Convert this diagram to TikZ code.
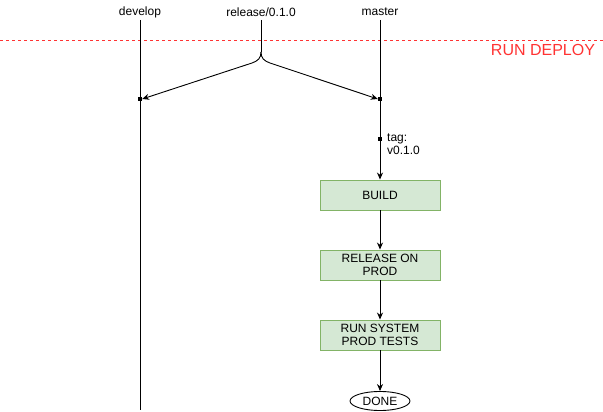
\documentclass[tikz,border=0pt]{standalone}
\usepackage{fontspec}
\setmainfont{Liberation Sans}
\usetikzlibrary{arrows.meta,shapes.geometric}
\definecolor{stepFill}{RGB}{213,232,212}
\definecolor{stepDraw}{RGB}{130,179,102}
\definecolor{deployColor}{RGB}{255,51,51}
\tikzset{
  branch/.style={draw=black,line width=0.9pt},
  flow/.style={branch,-{Stealth[length=7pt,width=6pt]}},
  stepbox/.style={draw=stepDraw,fill=stepFill,line width=0.9pt,minimum width=120pt,
    minimum height=30pt,align=center,inner sep=1pt,font=\fontsize{12}{13}\selectfont},
  label/.style={inner sep=0pt,font=\fontsize{12}{13}\selectfont},
  commit/.style={fill=black,inner sep=0pt,minimum size=4pt}
}
\begin{document}
\begin{tikzpicture}[x=1pt,y=-1pt]
\path[use as bounding box,fill=white] (0,0) rectangle (603,412);

% deploy trigger
\coordinate (deployL) at (0,40);
\coordinate (deployR) at (603,40);
\draw[deployColor,dashed,line width=0.6pt] (deployL) -- (deployR);
\node[label,text=deployColor,font=\fontsize{16}{18}\selectfont] (deploy) at (543,50) {RUN DEPLOY};

% branch names
\node[label] (develop) at (140,12) {develop};
\node[label] (release) at (261,12) {release/0.1.0};
\node[label] (master) at (380,12) {master};

% branch lines
\coordinate (devTop) at (140,20);
\coordinate (devEnd) at (140,410);
\coordinate (relTop) at (261,20);
\coordinate (relSplit) at (261,52);
\coordinate (masTop) at (380,20);
\node[commit] (devMerge) at (140,99) {};
\node[commit] (masMerge) at (380,99) {};
\node[commit] (tagCommit) at (380,139) {};

\draw[branch] (devTop) -- (devEnd);
\draw[branch] (relTop) -- (relSplit);
\draw[flow] (relSplit) .. controls (261,58) and (258,61) .. (252,63) -- (devMerge.east);
\draw[flow] (relSplit) .. controls (261,58) and (264,61) .. (270,63) -- (masMerge.west);

% pipeline
\node[stepbox] (build) at (380,195) {BUILD};
\node[stepbox] (releaseProd) at (380,265) {RELEASE ON\\PROD};
\node[stepbox] (sysTests) at (380,335) {RUN SYSTEM\\PROD TESTS};
\node[ellipse,draw=black,line width=0.9pt,fill=white,minimum width=60pt,minimum height=19pt,
  inner sep=0pt,font=\fontsize{12}{13}\selectfont] (done) at (380,401) {DONE};

\node[label,anchor=north west,align=left] (tag) at (387,134) {tag:\\v0.1.0};

\draw[branch] (masTop) -- (masMerge) -- (tagCommit);
\draw[flow] (tagCommit) -- (build);
\draw[flow] (build) -- (releaseProd);
\draw[flow] (releaseProd) -- (sysTests);
\draw[flow] (sysTests) -- (done);
\end{tikzpicture}
\end{document}
